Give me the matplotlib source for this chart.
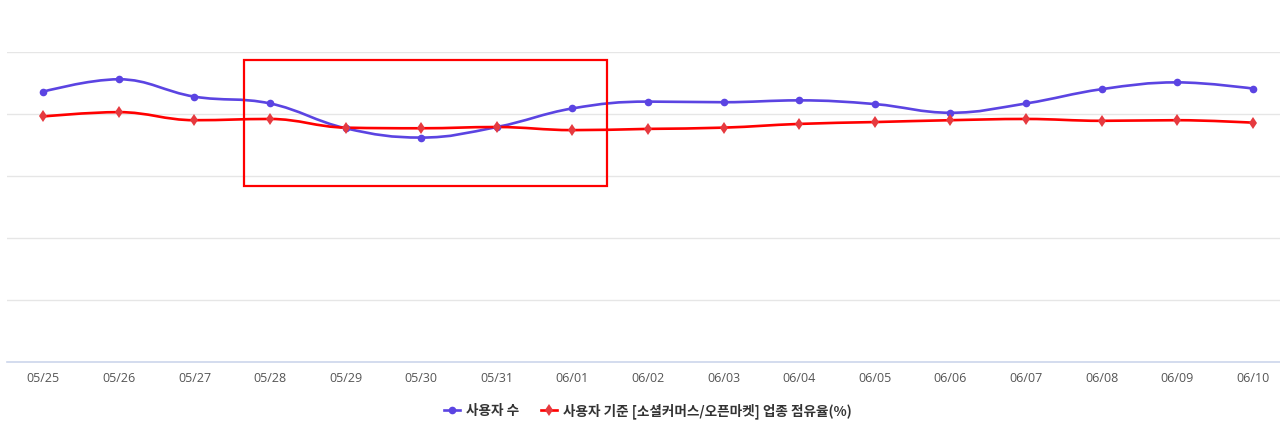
import numpy as np
import matplotlib
matplotlib.use('Agg')
import matplotlib.pyplot as plt
from matplotlib.path import Path
from matplotlib.patches import PathPatch, Rectangle
from matplotlib.lines import Line2D

plt.rcParams['font.family'] = ['Noto Sans CJK KR', 'DejaVu Sans']

# data (grid units, no y labels shown)
dates = ['05/25', '05/26', '05/27', '05/28', '05/29', '05/30', '05/31', '06/01', '06/02',
         '06/03', '06/04', '06/05', '06/06', '06/07', '06/08', '06/09', '06/10']
users = [4.36, 4.56, 4.28, 4.17, 3.77, 3.62, 3.79, 4.09, 4.20,
         4.19, 4.22, 4.16, 4.02, 4.17, 4.40, 4.51, 4.41]
share = [3.96, 4.03, 3.90, 3.92, 3.78, 3.77, 3.79, 3.74, 3.76,
         3.78, 3.84, 3.87, 3.90, 3.92, 3.89, 3.90, 3.86]
names = ['사용자 수', '사용자 기준 [소셜커머스/오픈마켓] 업종 점유율(%)']

blue = '#5b44e2'
red = '#ff0000'
red_mk = '#e63a3f'


def spline_path(xs, ys, smoothing=1.5):
    # highcharts-like spline: bezier segments with control points per point
    n = len(xs)
    lc = [(xs[i], ys[i]) for i in range(n)]
    rc = [(xs[i], ys[i]) for i in range(n)]
    d = smoothing + 1
    for i in range(1, n - 1):
        px, py = xs[i], ys[i]
        lx, ly = xs[i - 1], ys[i - 1]
        nx, ny = xs[i + 1], ys[i + 1]
        lcx = (smoothing * px + lx) / d
        lcy = (smoothing * py + ly) / d
        rcx = (smoothing * px + nx) / d
        rcy = (smoothing * py + ny) / d
        if rcx != lcx:
            corr = (rcy - lcy) * (rcx - px) / (rcx - lcx) + py - rcy
            lcy += corr
            rcy += corr
            if lcy > ly and lcy > py:
                lcy = max(ly, py); rcy = 2 * py - lcy
            elif lcy < ly and lcy < py:
                lcy = min(ly, py); rcy = 2 * py - lcy
            if rcy > ny and rcy > py:
                rcy = max(ny, py); lcy = 2 * py - rcy
            elif rcy < ny and rcy < py:
                rcy = min(ny, py); lcy = 2 * py - rcy
        lc[i] = (lcx, lcy)
        rc[i] = (rcx, rcy)
    verts = [(xs[0], ys[0])]
    codes = [Path.MOVETO]
    for i in range(1, n):
        verts += [rc[i - 1], lc[i], (xs[i], ys[i])]
        codes += [Path.CURVE4] * 3
    return Path(verts, codes)


fig = plt.figure(figsize=(12.8, 4.21), dpi=100)
ax = fig.add_axes([7 / 1280, (421 - 362) / 421, 1273 / 1280, 310 / 421])

x = np.arange(len(dates))
for vals, col, mcol, mk, ms in [(users, blue, blue, 'o', 5.5), (share, red, red_mk, 'd', 6.5)]:
    ax.add_patch(PathPatch(spline_path(x, vals), fill=False, edgecolor=col, lw=1.9,
                           capstyle='round', joinstyle='round', zorder=3))
    ax.plot(x, vals, linestyle='none', marker=mk, color=mcol, markersize=ms,
            markeredgewidth=0, zorder=4)

# red highlight box
ax.add_patch(Rectangle((2.66, 2.84), 4.80, 2.03, fill=False, edgecolor='#ff0000',
                       lw=1.6, zorder=5, clip_on=False))

ax.set_xlim(-0.48, 16.36)
ax.set_ylim(0, 5)
ax.set_yticks([1, 2, 3, 4, 5])
ax.set_yticklabels([])
ax.tick_params(axis='y', length=0)
ax.grid(axis='y', color='#e6e6e6', lw=1)
ax.set_axisbelow(True)
ax.set_xticks(x)
ax.set_xticklabels(dates, fontsize=9, color='#555555')
for t in ax.get_xticklabels():
    t.set_fontfamily(['Open Sans', 'DejaVu Sans'])
ax.tick_params(axis='x', length=0, pad=7)
for s in ['top', 'right', 'left']:
    ax.spines[s].set_visible(False)
ax.spines['bottom'].set_color('#ccd6eb')
ax.spines['bottom'].set_linewidth(1.2)

handles = [
    Line2D([], [], color=blue, lw=1.9, marker='o', markersize=5.5, markeredgewidth=0),
    Line2D([], [], color=red, lw=1.9, marker='d', markersize=6.5, markerfacecolor=red_mk,
           markeredgewidth=0),
]
fig.legend(handles, names, loc='center', bbox_to_anchor=(0.506, 1 - 411 / 421), ncol=2,
           frameon=False, handlelength=1.2, columnspacing=1.6, handletextpad=0.4,
           prop={'size': 9.8, 'weight': 'bold'}, labelcolor='#333333')

fig.savefig('out.png', dpi=100)
